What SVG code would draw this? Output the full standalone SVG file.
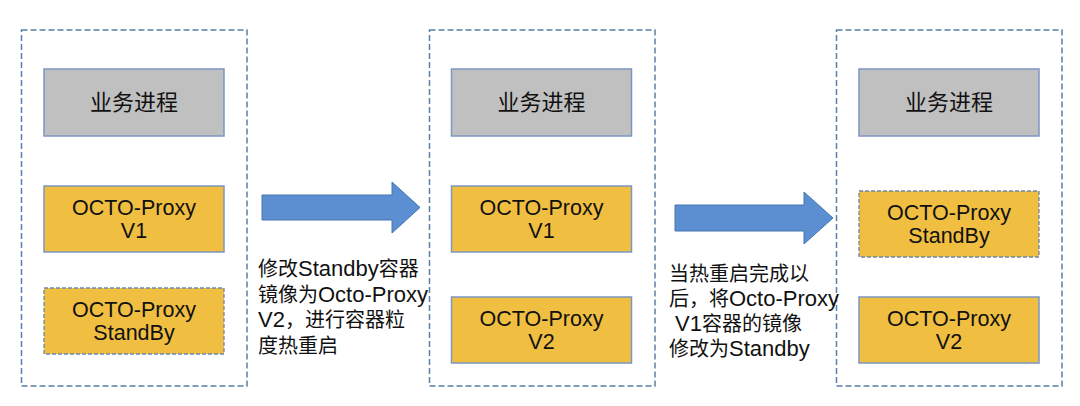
<svg xmlns="http://www.w3.org/2000/svg" width="1080" height="406" viewBox="0 0 1080 406">
<style>
.panel{fill:none;stroke:#5a7fa8;stroke-width:1.5;stroke-dasharray:6 3}
.gray{fill:#c0c0c0;stroke:#7b97c1;stroke-width:1.5}
.org{fill:#f0be41;stroke:#7b97c1;stroke-width:1.5}
.orgd{fill:#f0be41;stroke:#6a88b0;stroke-width:1.3;stroke-dasharray:4 2}
.arrow{fill:#5b8fd1;stroke:#4676b0;stroke-width:1}
text{font-family:"Liberation Sans",Arial,"Noto Sans CJK SC",sans-serif;fill:#111}
.bt{font-size:21.5px;text-anchor:middle}
.bc{font-size:22px;text-anchor:middle}
.lt{font-size:20px}
.la{font-size:22px}
</style>
<rect width="1080" height="406" fill="#fff"/>
<g id="panel1">
<rect class="panel" x="21.5" y="30" width="225.5" height="356"/>
</g>
<g id="panel2">
<rect class="panel" x="429.5" y="30" width="225.5" height="356"/>
</g>
<g id="panel3">
<rect class="panel" x="836.5" y="30" width="225.5" height="356"/>
</g>
<g id="p1-biz"><rect class="gray" x="44" y="69" width="180" height="67"/><text class="bc" x="134" y="110">业务进程</text></g>
<g id="p1-v1"><rect class="org" x="44" y="186" width="180" height="66"/><text class="bt" x="134" y="215">OCTO-Proxy</text><text class="bt" x="134" y="238">V1</text></g>
<g id="p1-standby"><rect class="orgd" x="44" y="288" width="180" height="66"/><text class="bt" x="134" y="317">OCTO-Proxy</text><text class="bt" x="134" y="340">StandBy</text></g>
<g id="p2-biz"><rect class="gray" x="451.5" y="69" width="180" height="67"/><text class="bc" x="541.5" y="110">业务进程</text></g>
<g id="p2-v1"><rect class="org" x="451.5" y="186" width="180" height="66"/><text class="bt" x="541.5" y="215">OCTO-Proxy</text><text class="bt" x="541.5" y="238">V1</text></g>
<g id="p2-v2"><rect class="org" x="451.5" y="297" width="180" height="66"/><text class="bt" x="541.5" y="326">OCTO-Proxy</text><text class="bt" x="541.5" y="349">V2</text></g>
<g id="p3-biz"><rect class="gray" x="859" y="69" width="180" height="67"/><text class="bc" x="949" y="110">业务进程</text></g>
<g id="p3-standby"><rect class="orgd" x="859" y="191" width="180" height="66"/><text class="bt" x="949" y="220">OCTO-Proxy</text><text class="bt" x="949" y="243">StandBy</text></g>
<g id="p3-v2"><rect class="org" x="859" y="297" width="180" height="66"/><text class="bt" x="949" y="326">OCTO-Proxy</text><text class="bt" x="949" y="349">V2</text></g>
<g id="connectors">
<polygon class="arrow" points="262,195 392,195 392,182 420,207.5 392,233 392,220 262,220"/>
<polygon class="arrow" points="675,205 804,205 804,192 833,218 804,244 804,231 675,231"/>
</g>
<g id="label1">
<text class="lt" x="258" y="276">修改<tspan class="la">Standby</tspan>容器</text>
<text class="lt" x="258" y="301.5">镜像为<tspan class="la">Octo-Proxy</tspan></text>
<text class="lt" x="258" y="327"><tspan class="la">V2</tspan>，进行容器粒</text>
<text class="lt" x="258" y="352.5">度热重启</text>
</g>
<g id="label2">
<text class="lt" x="669" y="281">当热重启完成以</text>
<text class="lt" x="669" y="306">后，将<tspan class="la">Octo-Proxy</tspan></text>
<text class="lt" x="675" y="331"><tspan class="la">V1</tspan>容器的镜像</text>
<text class="lt" x="669" y="356">修改为<tspan class="la">Standby</tspan></text>
</g>
</svg>
